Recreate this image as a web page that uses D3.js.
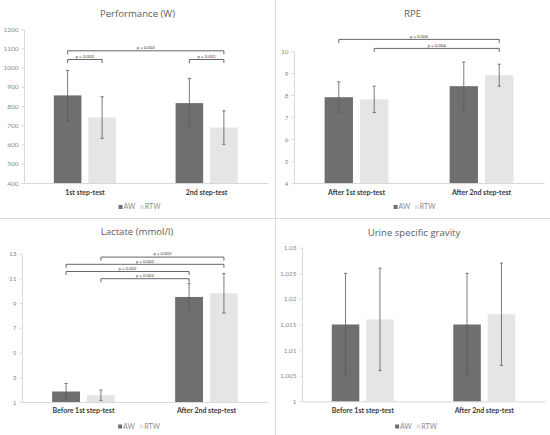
<!DOCTYPE html>
<html><head><meta charset="utf-8">
<script src="https://cdn.jsdelivr.net/npm/d3@7"></script>
<style>
html,body{margin:0;padding:0;background:#fff;}
svg{display:block;font-family:Lato, "Open Sans", sans-serif;}
</style></head>
<body>
<svg id="chart" width="550" height="435"></svg>
<script>
// ---------- DATA ----------
const series = ["AW", "RTW"];

const perfCategories = ["1st step-test", "2nd step-test"];
const perfAW = [855, 815];
const perfAWErr = [130, 128];
const perfRTW = [740, 688];
const perfRTWErr = [108, 87];
const perfTicks = [400, 500, 600, 700, 800, 900, 1000, 1100, 1200];
const perfTickLabels = ["400", "500", "600", "700", "800", "900", "1000", "1100", "1200"];
const perfBrackets = [
  {from: [0, "AW"], to: [0, "RTW"], label: "p = 0.002", level: 0},
  {from: [1, "AW"], to: [1, "RTW"], label: "p = 0.001", level: 0},
  {from: [0, "AW"], to: [1, "RTW"], label: "p = 0.002", level: 1}
];

const rpeCategories = ["After 1st step-test", "After 2nd step-test"];
const rpeAW = [7.9, 8.4];
const rpeAWErr = [0.7, 1.1];
const rpeRTW = [7.8, 8.9];
const rpeRTWErr = [0.6, 0.5];
const rpeTicks = [4, 5, 6, 7, 8, 9, 10];
const rpeTickLabels = ["4", "5", "6", "7", "8", "9", "10"];
const rpeBrackets = [
  {from: [0, "RTW"], to: [1, "RTW"], label: "p = 0.004", level: 0},
  {from: [0, "AW"], to: [1, "RTW"], label: "p = 0.006", level: 1}
];

const lacCategories = ["Before 1st step-test", "After 2nd step-test"];
const lacAW = [1.85, 9.5];
const lacAWErr = [0.65, 1.1];
const lacRTW = [1.55, 9.8];
const lacRTWErr = [0.42, 1.6];
const lacTicks = [1, 3, 5, 7, 9, 11, 13];
const lacTickLabels = ["1", "3", "5", "7", "9", "11", "13"];
const lacBrackets = [
  {from: [0, "RTW"], to: [1, "AW"], label: "p = 0.002", level: 0},
  {from: [0, "AW"], to: [1, "AW"], label: "p = 0.002", level: 1},
  {from: [0, "AW"], to: [1, "RTW"], label: "p = 0.002", level: 2},
  {from: [0, "RTW"], to: [1, "RTW"], label: "p = 0.002", level: 3}
];

const usgCategories = ["Before 1st step-test", "After 2nd step-test"];
const usgAW = [1.015, 1.015];
const usgAWErr = [0.010, 0.010];
const usgRTW = [1.016, 1.017];
const usgRTWErr = [0.010, 0.010];
const usgTicks = [1, 1.005, 1.01, 1.015, 1.02, 1.025, 1.03];
const usgTickLabels = ["1", "1,005", "1,01", "1,015", "1,02", "1,025", "1,03"];
const usgBrackets = [];

// ---------- LAYOUT ----------
const panels = [
  {title: "Performance (W)", cats: perfCategories, vals: [perfAW, perfRTW], errs: [perfAWErr, perfRTWErr],
   ticks: perfTicks, tickLabels: perfTickLabels, domain: [400, 1200], brackets: perfBrackets,
   cx: 137.5, titleY: 14, xr: [24, 267.5], yr: [183, 29], catY: 192.5, legY: 207, brY0: 59.5, brStep: 8.7},
  {title: "RPE", cats: rpeCategories, vals: [rpeAW, rpeRTW], errs: [rpeAWErr, rpeRTWErr],
   ticks: rpeTicks, tickLabels: rpeTickLabels, domain: [4, 10], brackets: rpeBrackets,
   cx: 412.5, titleY: 14, xr: [294, 544], yr: [183, 51], catY: 192.5, legY: 207, brY0: 48.4, brStep: 9},
  {title: "Lactate (mmol/l)", cats: lacCategories, vals: [lacAW, lacRTW], errs: [lacAWErr, lacRTWErr],
   ticks: lacTicks, tickLabels: lacTickLabels, domain: [1, 13], brackets: lacBrackets,
   cx: 137, titleY: 232, xr: [22, 268], yr: [402, 253.7], catY: 410.5, legY: 426.5, brY0: 278.7, brStep: 7.2},
  {title: "Urine specific gravity", cats: usgCategories, vals: [usgAW, usgRTW], errs: [usgAWErr, usgRTWErr],
   ticks: usgTicks, tickLabels: usgTickLabels, domain: [1, 1.03], brackets: usgBrackets,
   cx: 414, titleY: 232.5, xr: [302, 545], yr: [401.3, 247.7], catY: 410.5, legY: 426.5, brY0: 0, brStep: 0}
];

const colors = {AW: "#6f6f6f", RTW: "#e7e4e4"};
const svg = d3.select("#chart");

// panel dividers
svg.append("line").attr("x1", 275.5).attr("x2", 275.5).attr("y1", 0).attr("y2", 435)
  .attr("stroke", "#d9d9d9").attr("stroke-width", 1);
svg.append("line").attr("x1", 0).attr("x2", 550).attr("y1", 218.5).attr("y2", 218.5)
  .attr("stroke", "#d9d9d9").attr("stroke-width", 1);

panels.forEach(p => {
  const g = svg.append("g");
  const x = d3.scaleBand().domain(p.cats).range(p.xr).paddingInner(0.49).paddingOuter(0.245);
  const xs = d3.scaleBand().domain(series).range([0, x.bandwidth()]).paddingInner(0.2);
  const y = d3.scaleLinear().domain(p.domain).range(p.yr);

  // title
  g.append("text").attr("x", p.cx).attr("y", p.titleY).attr("dy", "0.35em")
    .attr("text-anchor", "middle").attr("font-size", 9.6).attr("font-weight", 400)
    .attr("font-family", "'Open Sans', Lato, sans-serif").attr("fill", "#606060").text(p.title);

  // y axis
  const yAxis = d3.axisLeft(y).tickValues(p.ticks)
    .tickFormat((d, i) => p.tickLabels[i]).tickSize(2.5).tickSizeOuter(0).tickPadding(3);
  const ya = g.append("g").attr("transform", `translate(${p.xr[0]},0)`).call(yAxis);
  ya.select(".domain").attr("stroke", "#d9d9d9");
  ya.selectAll(".tick line").attr("stroke", "#d9d9d9");
  ya.selectAll(".tick text").attr("fill", "#8a8a8a").attr("font-size", 6.5)
    .attr("font-family", "Lato, 'Open Sans', sans-serif");

  // x axis
  const xAxis = d3.axisBottom(x).tickSize(0).tickSizeOuter(0).tickPadding(0);
  const xa = g.append("g").attr("transform", `translate(0,${p.yr[0]})`).call(xAxis);
  xa.select(".domain").attr("stroke", "#d9d9d9");
  xa.selectAll(".tick text").attr("y", p.catY - p.yr[0]).attr("dy", "0.35em")
    .attr("fill", "#3a3a3a").attr("font-size", 7).attr("font-weight", 700)
    .attr("font-family", "Lato, 'Open Sans', sans-serif");

  // bars
  series.forEach((s, si) => {
    const rows = p.cats.map((c, ci) => ({c, v: p.vals[si][ci], e: p.errs[si][ci]}));
    g.selectAll(null).data(rows).enter().append("rect")
      .attr("x", d => x(d.c) + xs(s)).attr("width", xs.bandwidth())
      .attr("y", d => y(d.v)).attr("height", d => y(p.domain[0]) - y(d.v))
      .attr("fill", colors[s]);
    // error bars
    const eg = g.selectAll(null).data(rows).enter().append("g").attr("stroke", "#595959").attr("stroke-width", 0.8);
    const cxv = d => x(d.c) + xs(s) + xs.bandwidth() / 2;
    eg.append("line").attr("x1", cxv).attr("x2", cxv).attr("y1", d => y(d.v + d.e)).attr("y2", d => y(d.v - d.e));
    eg.append("line").attr("x1", d => cxv(d) - 1.6).attr("x2", d => cxv(d) + 1.6).attr("y1", d => y(d.v + d.e)).attr("y2", d => y(d.v + d.e));
    eg.append("line").attr("x1", d => cxv(d) - 1.6).attr("x2", d => cxv(d) + 1.6).attr("y1", d => y(d.v - d.e)).attr("y2", d => y(d.v - d.e));
  });

  // significance brackets
  const barCenter = (ci, s) => x(p.cats[ci]) + xs(s) + xs.bandwidth() / 2;
  p.brackets.forEach(b => {
    const x1 = barCenter(b.from[0], b.from[1]);
    const x2 = barCenter(b.to[0], b.to[1]);
    const yy = p.brY0 - b.level * p.brStep;
    g.append("path").attr("d", `M${x1},${yy + 3.5}V${yy}H${x2}V${yy + 3.5}`)
      .attr("fill", "none").attr("stroke", "#555").attr("stroke-width", 0.9);
    g.append("text").attr("x", (x1 + x2) / 2).attr("y", yy - 3.3).attr("dy", "0.35em")
      .attr("text-anchor", "middle").attr("font-size", 4.3).attr("fill", "#404040").text(b.label);
  });

  // legend
  const lg = g.append("g");
  let cx = 0;
  series.forEach((s, si) => {
    lg.append("rect").attr("x", cx).attr("y", -2).attr("width", 4).attr("height", 4).attr("fill", colors[s]);
    cx += 5;
    const t = lg.append("text").attr("x", cx).attr("y", 0).attr("dy", "0.35em")
      .attr("font-size", 7).attr("fill", "#8a8a8a").text(s);
    cx += t.node().getComputedTextLength() + (si < series.length - 1 ? 4.5 : 0);
  });
  lg.attr("transform", `translate(${p.cx + 2 - cx / 2},${p.legY})`);
});
</script>
</body></html>
